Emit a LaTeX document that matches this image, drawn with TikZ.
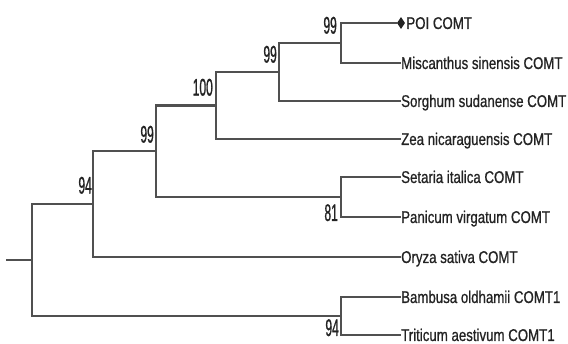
\documentclass[tikz,border=0pt]{standalone}
\usepackage{fontspec}
\setmainfont{Liberation Sans}[FakeStretch=0.78,FakeBold=0.8]
\newfontfamily\numfont{Liberation Sans}[FakeStretch=0.5,FakeBold=0.8]
\usetikzlibrary{shapes.geometric}
\definecolor{branch}{RGB}{80,80,80}
\definecolor{txt}{RGB}{35,35,35}
\begin{document}
\begin{tikzpicture}[x=1pt,y=-1pt,
  branchline/.style={draw=branch,line width=2.7pt,line cap=rect},
  leaf/.style={anchor=west,inner sep=1pt,text=txt,font=\fontsize{17}{17}\selectfont,text height=12pt,text depth=0pt},
  boot/.style={inner sep=0pt,text=txt,font=\numfont\fontsize{24}{24}\selectfont},
  bootup/.style={boot,anchor=south east},
  bootdown/.style={boot,anchor=north east}]
\useasboundingbox (0,0) rectangle (568,344);
% leaves
\node[diamond,fill=txt,inner sep=0pt,minimum width=8pt,minimum height=12pt] (dia) at (401,23) {};
\node[leaf] (poi) at (dia.east) {POI COMT};
\node[leaf] (mis) at (400,63) {Miscanthus sinensis COMT};
\node[leaf] (sor) at (400,101) {Sorghum sudanense COMT};
\node[leaf] (zea) at (400,139) {Zea nicaraguensis COMT};
\node[leaf] (set) at (400,177) {Setaria italica COMT};
\node[leaf] (pan) at (400,217) {Panicum virgatum COMT};
\node[leaf] (ory) at (400,257) {Oryza sativa COMT};
\node[leaf] (bam) at (400,297) {Bambusa oldhamii COMT1};
\node[leaf] (tri) at (400,335) {Triticum aestivum COMT1};
% internal nodes
\coordinate (n1) at (341,43);
\coordinate (n2) at (279,72);
\coordinate (n3) at (216,105.5);
\coordinate (n4) at (341,197);
\coordinate (n5) at (156,151);
\coordinate (n6) at (93,204);
\coordinate (n7) at (341,316);
\coordinate (root) at (32,260);
\coordinate (stub) at (7,260);
% branches
\draw[branchline] (n1) |- (dia.west);
\draw[branchline] (n1) |- (mis.west);
\draw[branchline] (n2) |- (n1);
\draw[branchline] (n2) |- (sor.west);
\draw[branchline] (n3) |- (n2);
\draw[branchline] (n3) |- (zea.west);
\draw[branchline] (n4) |- (set.west);
\draw[branchline] (n4) |- (pan.west);
\draw[branchline] (n5) |- (n3);
\draw[branchline] (n5) |- (n4);
\draw[branchline] (n6) |- (n5);
\draw[branchline] (n6) |- (ory.west);
\draw[branchline] (n7) |- (bam.west);
\draw[branchline] (n7) |- (tri.west);
\draw[branchline] (root) |- (n6);
\draw[branchline] (root) |- (n7);
\draw[branchline] (stub) -- (root);
% bootstrap values
\node[bootup] (b1) at (337,34) {99};
\node[bootup] (b2) at (277,63) {99};
\node[bootup] (b3) at (213,96) {100};
\node[bootup] (b5) at (154,143) {99};
\node[bootup] (b6) at (92,194) {94};
\node[bootdown] (b4) at (338,204) {81};
\node[bootdown] (b7) at (339,319) {94};
\end{tikzpicture}
\end{document}
